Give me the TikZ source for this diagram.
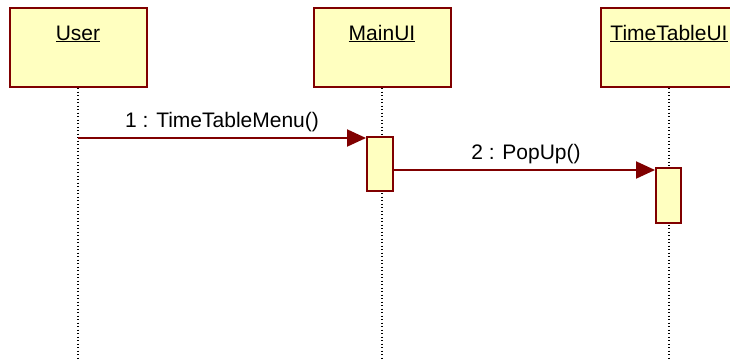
\documentclass[tikz,border=0pt]{standalone}
\usepackage{fontspec}
\setmainfont{Liberation Sans}
\usetikzlibrary{arrows.meta}
\definecolor{umlred}{RGB}{128,0,0}
\definecolor{umlfill}{RGB}{255,255,192}
\tikzset{
  objbox/.style={draw=umlred, fill=umlfill, line width=2pt, minimum width=137pt, minimum height=79pt, inner sep=0pt},
  objname/.style={font=\fontsize{21pt}{24pt}\selectfont, inner sep=0pt, anchor=base},
  lifeline/.style={draw=black, line width=1.3pt, dash pattern=on 1.3pt off 2.2pt},
  actbox/.style={draw=umlred, fill=umlfill, line width=2pt, minimum width=25pt, minimum height=54pt, inner sep=0pt},
  msg/.style={draw=umlred, line width=2pt, -{Triangle[length=19pt,width=17pt]}},
  msglabel/.style={font=\fontsize{21pt}{24pt}\selectfont, inner sep=0pt, anchor=base}
}
\begin{document}
\begin{tikzpicture}[x=1pt,y=-1pt]
\useasboundingbox (0,0) rectangle (730,360);
\clip (0,0) rectangle (730,360);
% object boxes
\node[objbox] (user) at (78,47.5) {};
\node[objbox] (main) at (382,47.5) {};
\node[objbox] (ttui) at (669,47.5) {};
\node[objname] (userlbl) at (78,40) {\underline{User}};
\node[objname] (mainlbl) at (382,40) {\underline{MainUI}};
\node[objname] (ttuilbl) at (669,40) {\underline{TimeTableUI}};
% lifeline ends
\coordinate (userend) at (78,360);
\coordinate (mainend) at (382,360);
\coordinate (ttuiend) at (669,360);
\draw[lifeline] (user.south) -- (userend);
\draw[lifeline] (main.south) -- (mainend);
\draw[lifeline] (ttui.south) -- (ttuiend);
% activations
\node[actbox, minimum width=26pt, minimum height=54pt] (act1) at (380,164) {};
\node[actbox, minimum width=25pt, minimum height=55pt] (act2) at (668.5,195.5) {};
% messages
\coordinate (m1s) at (78,138);
\draw[msg] (m1s) -- (act1.west |- m1s);
\coordinate (m2s) at (act1.east |- 0,170);
\draw[msg] (m2s) -- (act2.west |- m2s);
\node[msglabel] (lbl1) at (222,127) {1 : TimeTableMenu()};
\node[msglabel] (lbl2) at (526,159) {2 : PopUp()};
\end{tikzpicture}
\end{document}
